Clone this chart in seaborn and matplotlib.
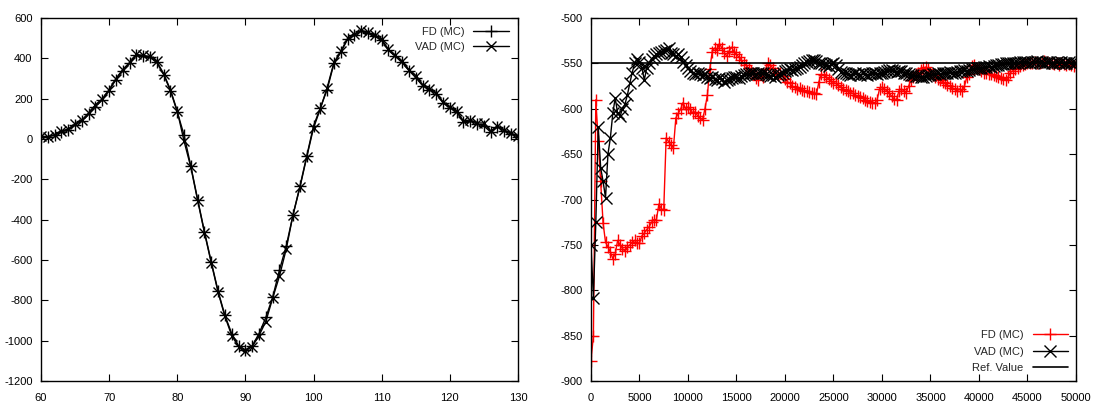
import matplotlib
matplotlib.use("Agg")
import matplotlib.pyplot as plt
import seaborn as sns

sns.set_theme(style="ticks")
plt.rcParams["font.family"] = ["Liberation Sans", "DejaVu Sans"]
plt.rcParams["axes.unicode_minus"] = False
plt.rcParams["xtick.direction"] = "in"
plt.rcParams["ytick.direction"] = "in"
plt.rcParams["xtick.top"] = True
plt.rcParams["ytick.right"] = True

# ── left panel: sensitivity vs strike ────────────────────────────────────────
strike = list(range(60, 131))
fd_left = [10, 10, 20, 35, 45, 70, 90, 125, 160, 195,
           240, 295, 340, 375, 415, 410, 405, 380, 320, 240,
           135, 20, -135, -300, -460, -610, -755, -875, -965, -1025,
           -1045, -1025, -965, -885, -785, -650, -530, -375, -235, -85,
           65, 155, 245, 375, 430, 495, 515, 535, 525, 510,
           490, 440, 410, 380, 340, 305, 265, 245, 225, 180,
           155, 135, 85, 90, 75, 65, 35, 60, 40, 25, 10]
vad_left = [15, 12, 22, 40, 50, 75, 95, 130, 170, 200,
            245, 300, 345, 380, 420, 415, 410, 385, 325, 245,
            140, -10, -140, -305, -465, -615, -760, -880, -975, -1030,
            -1050, -1030, -975, -905, -790, -680, -545, -375, -240, -90,
            55, 150, 255, 380, 435, 500, 520, 540, 530, 515,
            495, 445, 415, 385, 345, 315, 270, 250, 230, 185,
            160, 140, 90, 95, 80, 80, 40, 65, 45, 30, 15]

# ── right panel: convergence vs number of paths ──────────────────────────────
paths = list(range(0, 50001, 250))
fd_right = [
    -878, -850, -590, -635, -680, -726, -747, -752, -758, -765,
    -760, -745, -750, -754, -757, -752, -750, -747, -745, -748,
    -748, -740, -737, -733, -730, -725, -722, -722, -705, -710,
    -712, -632, -636, -640, -643, -610, -605, -600, -593, -600,
    -598, -600, -605, -603, -608, -610, -612, -600, -585, -556,
    -537, -533, -535, -528, -533, -538, -542, -536, -532, -537,
    -540, -543, -546, -550, -552, -555, -558, -562, -566, -568,
    -562, -565, -556, -550, -552, -555, -560, -562, -561, -564,
    -567, -570, -572, -575, -576, -578, -577, -579, -580, -580,
    -581, -582, -583, -584, -570, -562, -563, -565, -567, -569,
    -571, -572, -574, -576, -578, -579, -580, -582, -583, -585,
    -586, -587, -588, -590, -591, -592, -593, -594, -590, -578,
    -576, -578, -580, -583, -586, -589, -590, -580, -578, -580,
    -582, -575, -568, -565, -562, -560, -557, -555, -554, -556,
    -560, -563, -565, -567, -568, -570, -572, -574, -575, -577,
    -578, -580, -578, -580, -575, -565, -562, -553, -552, -555,
    -556, -558, -560, -560, -562, -562, -563, -564, -565, -566,
    -567, -568, -565, -560, -558, -556, -555, -553, -552, -551,
    -550, -549, -550, -548, -549, -550, -548, -547, -548, -549,
    -550, -551, -550, -552, -550, -551, -552, -551, -552, -553,
    -552]
vad_right = [
    -750, -808, -725, -620, -665, -680, -698, -650, -632, -605,
    -588, -605, -608, -600, -595, -585, -572, -560, -550, -545,
    -548, -555, -568, -555, -550, -545, -542, -540, -538, -537,
    -536, -535, -533, -538, -540, -542, -540, -543, -548, -552,
    -555, -558, -560, -562, -560, -562, -563, -562, -565, -566,
    -565, -567, -568, -566, -567, -570, -568, -567, -566, -565,
    -565, -566, -564, -563, -562, -562, -560, -561, -562, -561,
    -560, -560, -562, -563, -564, -563, -565, -563, -562, -560,
    -558, -557, -556, -557, -556, -555, -554, -552, -550, -548,
    -547, -546, -546, -547, -549, -550, -551, -552, -553, -551,
    -550, -552, -556, -559, -560, -561, -562, -563, -562, -561,
    -562, -563, -561, -562, -563, -562, -560, -561, -562, -561,
    -560, -559, -558, -557, -557, -558, -559, -558, -558, -560,
    -561, -562, -563, -563, -564, -564, -565, -565, -564, -563,
    -563, -562, -562, -561, -562, -561, -560, -560, -559, -560,
    -560, -559, -558, -558, -557, -558, -557, -556, -556, -555,
    -555, -555, -554, -554, -553, -554, -553, -552, -552, -551,
    -551, -550, -550, -550, -549, -549, -549, -548, -548, -548,
    -548, -549, -548, -548, -547, -548, -548, -549, -548, -548,
    -549, -549, -548, -549, -548, -549, -549, -548, -549, -549,
    -549]
ref_value = -549

fig = plt.figure(figsize=(10.95, 4.03), dpi=100)
ax1 = fig.add_axes([0.0374, 0.0546, 0.4356, 0.9004])
ax2 = fig.add_axes([0.5397, 0.0546, 0.4429, 0.9004])

common = dict(estimator=None, sort=False, linewidth=1.0, markeredgewidth=1.0)

sns.lineplot(x=strike, y=fd_left, ax=ax1, color="black", marker="+", markersize=8,
             markeredgecolor="black", label="FD (MC)", **common)
sns.lineplot(x=strike, y=vad_left, ax=ax1, color="black", marker="x", markersize=7,
             markeredgecolor="black", label="VAD (MC)", **common)

sns.lineplot(x=paths, y=fd_right, ax=ax2, color="#ff0000", marker="+", markersize=9,
             markeredgecolor="#ff0000", label="FD (MC)", **common)
sns.lineplot(x=paths, y=vad_right, ax=ax2, color="black", marker="x", markersize=8,
             markeredgecolor="black", label="VAD (MC)", **common)
ax2.axhline(ref_value, color="black", linewidth=1.2, label="Ref. Value")

ax1.set_xlim(60, 130)
ax1.set_ylim(-1200, 600)
ax1.set_xticks(range(60, 131, 10))
ax1.set_yticks(range(-1200, 601, 200))

ax2.set_xlim(0, 50000)
ax2.set_ylim(-900, -500)
ax2.set_xticks(range(0, 50001, 5000))
ax2.set_yticks(range(-900, -499, 50))

for ax in (ax1, ax2):
    ax.set_xlabel("")
    ax.set_ylabel("")
    ax.tick_params(labelsize=8, length=5, width=0.8, colors="black", pad=6)
    ax.tick_params(axis="x", pad=9)
    for s in ax.spines.values():
        s.set_linewidth(1.0)
        s.set_color("black")

ax1.legend(loc="upper right", frameon=False, fontsize=8, markerfirst=False,
           handlelength=3.2, numpoints=1, labelspacing=0.45, borderaxespad=0.4)
ax2.legend(loc="lower right", frameon=False, fontsize=8, markerfirst=False,
           handlelength=3.2, numpoints=1, labelspacing=0.6, borderaxespad=0.3)

fig.savefig("out.png", dpi=100)
